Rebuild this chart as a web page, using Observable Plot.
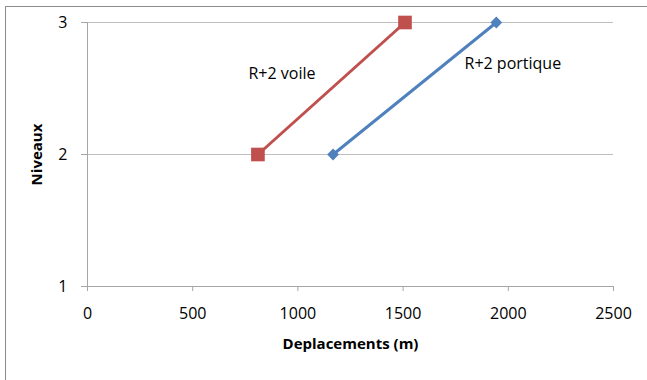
<!DOCTYPE html>
<html>
<head>
<meta charset="utf-8">
<script src="https://cdn.jsdelivr.net/npm/d3@7"></script>
<script src="https://cdn.jsdelivr.net/npm/@observablehq/plot@0.6"></script>
<style>
  html, body { margin: 0; padding: 0; background: #fff; }
  #wrap { position: relative; width: 647px; height: 380px; overflow: hidden; }
  #frame { position: absolute; left: 5px; top: 6px; width: 700px; height: 420px;
           border: 1px solid #8c8c8c; pointer-events: none; }
</style>
</head>
<body>
<div id="wrap"><div id="frame"></div></div>
<script>
// Niveaux (storeys) and lateral displacements for the two R+2 structures
const niveaux = [2, 3];
const voile = [810, 1509];      // R+2 voile
const portique = [1167, 1943];  // R+2 portique
const seriesNames = ["R+2 voile", "R+2 portique"];
const seriesColors = ["#C0504D", "#4F81BD"];

// Axis ticks
const xTicks = [0, 500, 1000, 1500, 2000, 2500];
const yTicks = [1, 2, 3];

// Annotation positions (data units) for the series labels
const labelX = [765, 1792];
const labelY = [2.61, 2.69];

const voileRows = niveaux.map((n, i) => ({ d: voile[i], n }));
const portiqueRows = niveaux.map((n, i) => ({ d: portique[i], n }));
const labelRows = seriesNames.map((s, i) => ({ s, x: labelX[i], y: labelY[i] }));

const chart = Plot.plot({
  width: 647,
  height: 380,
  marginLeft: 87,
  marginRight: 34,
  marginTop: 22,
  marginBottom: 94,
  style: { fontFamily: "'Open Sans', sans-serif", fontSize: "16px", color: "#000", background: "transparent" },
  x: { domain: [0, 2500] },
  y: { domain: [1, 3] },
  marks: [
    Plot.ruleY([2, 3], { stroke: "#c0c0c0", strokeWidth: 1 }),
    Plot.ruleY([1], { stroke: "#a6a6a6", strokeWidth: 1 }),
    Plot.ruleX([0], { stroke: "#a6a6a6", strokeWidth: 1 }),
    Plot.axisX({ ticks: xTicks, tickSize: 5, tickPadding: 16, stroke: "#a6a6a6", tickFormat: d => String(d), label: null }),
    Plot.axisY({ ticks: yTicks, tickSize: 6, tickPadding: 14, stroke: "#a6a6a6", tickFormat: d => String(d), label: null }),
    Plot.line(voileRows, { x: "d", y: "n", stroke: seriesColors[0], strokeWidth: 3 }),
    Plot.line(portiqueRows, { x: "d", y: "n", stroke: seriesColors[1], strokeWidth: 3 }),
    Plot.dot(voileRows, { x: "d", y: "n", symbol: "square", r: 7.7, fill: seriesColors[0], stroke: "none" }),
    Plot.dot(portiqueRows, { x: "d", y: "n", symbol: "diamond2", r: 5.3, fill: seriesColors[1], stroke: "none" }),
    Plot.text(labelRows, { x: "x", y: "y", text: "s", textAnchor: "start", fill: "#000" }),
    Plot.text(["Deplacements (m)"], { frameAnchor: "bottom", textAnchor: "middle", lineAnchor: "middle", dy: 58, fontWeight: "bold", fontSize: 15, fill: "#000" }),
    Plot.text(["Niveaux"], { frameAnchor: "left", textAnchor: "middle", lineAnchor: "middle", dx: -50, rotate: -90, fontWeight: "bold", fontSize: 15, fill: "#000" })
  ]
});

document.getElementById("wrap").insertBefore(chart, document.getElementById("frame"));
</script>
</body>
</html>
